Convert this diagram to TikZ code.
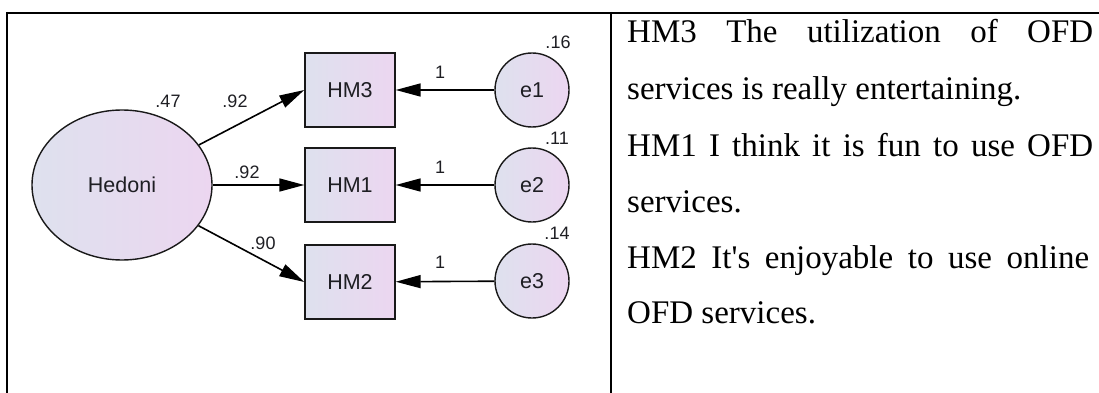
\documentclass[tikz,border=0pt]{standalone}
\usepackage{fontspec}
\setmainfont{Liberation Serif}
\newfontfamily\diagfont{Liberation Sans}
% plain instance of the serif face, without the TeX quote mapping
\font\rawserif="Liberation Serif" at 33pt
\usetikzlibrary{arrows.meta,shapes.geometric}
\definecolor{fillL}{RGB}{222,225,238}
\definecolor{fillR}{RGB}{236,214,240}
\definecolor{ink}{RGB}{30,30,35}
\begin{document}
\begin{tikzpicture}[x=1pt,y=-1pt,
  grad/.style={draw=black!90,line width=1.4pt,left color=fillL,right color=fillR,text=ink},
  latent/.style={grad,ellipse,minimum width=180pt,minimum height=150pt,inner sep=0pt,font=\diagfont\fontsize{21.5}{21.5}\selectfont},
  observed/.style={grad,rectangle,minimum width=90pt,minimum height=74pt,inner sep=0pt,font=\diagfont\fontsize{21.5}{21.5}\selectfont},
  errterm/.style={grad,circle,minimum size=74pt,inner sep=0pt,font=\diagfont\fontsize{21.5}{21.5}\selectfont},
  loading/.style={line width=1.6pt,-{Triangle[length=25pt,width=13pt]}},
  est/.style={font=\diagfont\fontsize{18}{18}\selectfont,text=ink,inner sep=0pt},
  rule/.style={line width=2pt},
  item/.style={anchor=base west,inner sep=0pt,font=\fontsize{33}{33}\selectfont}
]
\useasboundingbox (0,0) rectangle (1099,393);

% table rules
\draw[rule] (6,13) -- (1099,13);
\draw[rule] (7,12) -- (7,393);
\draw[rule] (611,12) -- (611,393);

% measurement model
\node[latent] (H) at (122,185) {Hedoni};
\node[observed] (HM3) at (350,90) {HM3};
\node[observed] (HM1) at (350,185) {HM1};
\node[observed] (HM2) at (350,282) {HM2};
\node[errterm] (e1) at (532,90) {e1};
\node[errterm] (e2) at (532,185) {e2};
\node[errterm] (e3) at (532,281) {e3};

\draw[loading] (H) -- (HM3.west);
\draw[loading] (H) -- (HM1.west);
\draw[loading] (H) -- (HM2.west);
\draw[loading] (e1) -- (HM3);
\draw[loading] (e2) -- (HM1);
\draw[loading] (e3) -- (HM2);

% estimates
\node[est] (vH) at (168,101) {.47};
\node[est] (l3) at (235,101) {.92};
\node[est] (l1) at (247,172) {.92};
\node[est] (l2) at (263,243) {.90};
\node[est] (f1) at (440,72) {1};
\node[est] (f2) at (440,167) {1};
\node[est] (f3) at (440,262) {1};
\node[est] (v1) at (558,42) {.16};
\node[est] (v2) at (557,138) {.11};
\node[est] (v3) at (557,233) {.14};

% item wording
\node[item] (t1) at (627,43) {\hbox to 466pt{HM3\hfill The\hfill utilization\hfill of\hfill OFD}};
\node[item] (t2) at (627,100) {services is really entertaining.};
\node[item] (t3) at (627,156) {\hbox to 466pt{HM1\hfill I\hfill think\hfill it\hfill is\hfill fun\hfill to\hfill use\hfill OFD}};
\node[item] (t4) at (627,212) {services.};
\node[item] (t5) at (627,268) {\hbox to 462pt{HM2\hfill It{\rawserif'}s\hfill enjoyable\hfill to\hfill use\hfill online}};
\node[item] (t6) at (627,323) {OFD services.};
\end{tikzpicture}
\end{document}
